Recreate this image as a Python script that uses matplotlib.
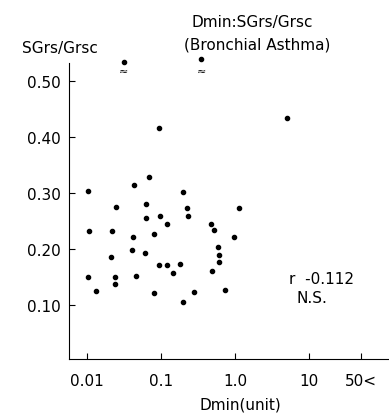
import numpy as np
import matplotlib.pyplot as plt

# Dmin (unit) and SGrs/Grsc for each patient
dmin = [0.0104, 0.0106, 0.0247, 0.022, 0.0213, 0.0428, 0.0415, 0.0402, 0.0682, 0.0627,
        0.0632, 0.0603, 0.0796, 0.0948, 0.0969, 0.1216, 0.094, 0.1194, 0.1807, 0.145,
        0.196, 0.2264, 0.2317, 0.47, 0.515, 0.594, 0.602, 0.608, 0.493, 0.959,
        1.143, 0.0102, 0.0134, 0.0239, 0.0237, 0.0464, 0.0804, 0.196, 0.282, 0.733,
        5.0]
sgrs = [0.303, 0.232, 0.2745, 0.2316, 0.1857, 0.3138, 0.222, 0.1988, 0.329, 0.2804,
        0.2559, 0.1929, 0.2268, 0.416, 0.2584, 0.2446, 0.1709, 0.1714, 0.1727, 0.157,
        0.3018, 0.2727, 0.2589, 0.2446, 0.234, 0.204, 0.189, 0.176, 0.1607, 0.221,
        0.273, 0.1495, 0.125, 0.1495, 0.1375, 0.1513, 0.122, 0.1054, 0.1238, 0.1263,
        0.434]
# off-scale points (drawn above the axis break)
dmin_off = [0.0313, 0.351]
sgrs_off = [0.534, 0.539]

xticks = [0.01, 0.1, 1.0, 10, 50]
xticklabels = ["0.01", "0.1", "1.0", "10", "50<"]
yticks = [0.10, 0.20, 0.30, 0.40, 0.50]

W, H = 389, 414
fig = plt.figure(figsize=(W / 100, H / 100), dpi=100)
ax = fig.add_axes([69 / W, 1 - 360 / H, (W - 69) / W, (360 - 55) / H])

ax.plot(dmin, sgrs, "o", color="black", ms=3.0, clip_on=False)
ax.plot(dmin_off, sgrs_off, "o", color="black", ms=3.0, clip_on=False)
for xo in dmin_off:
    ax.text(xo, 0.517, "≈", fontsize=8, ha="center", va="center")

ax.set_xscale("log")
ax.set_xlim(0.00571, 120)
ax.set_ylim(0.0036, 0.548)
ax.spines["top"].set_visible(False)
ax.spines["right"].set_visible(False)
ax.spines["left"].set_bounds(0.0036, 0.532)

ax.set_xticks(xticks)
ax.set_xticklabels(xticklabels)
ax.xaxis.set_minor_locator(plt.NullLocator())
ax.set_yticks(yticks)
ax.set_yticklabels(["%.2f" % v for v in yticks])
ax.tick_params(direction="in", length=4, width=0.8, labelsize=11, pad=6)
ax.tick_params(axis="x", pad=10)

ax.set_xlabel("Dmin(unit)", fontsize=11, labelpad=2)
ax.xaxis.set_label_coords((240 - 69) / (W - 69), -(404 - 360) / (360 - 55) + 0.02)

fig.text(60 / W, 1 - 48 / H, "SGrs/Grsc", fontsize=11, ha="center", va="center")
fig.text(252 / W, 1 - 22 / H, "Dmin:SGrs/Grsc", fontsize=11, ha="center", va="center")
fig.text(257 / W, 1 - 45 / H, "(Bronchial Asthma)", fontsize=11, ha="center", va="center")
fig.text(289 / W, 1 - 280 / H, "r  -0.112", fontsize=11, ha="left", va="center")
fig.text(297 / W, 1 - 299 / H, "N.S.", fontsize=11, ha="left", va="center")

fig.savefig("out.png", dpi=100)
